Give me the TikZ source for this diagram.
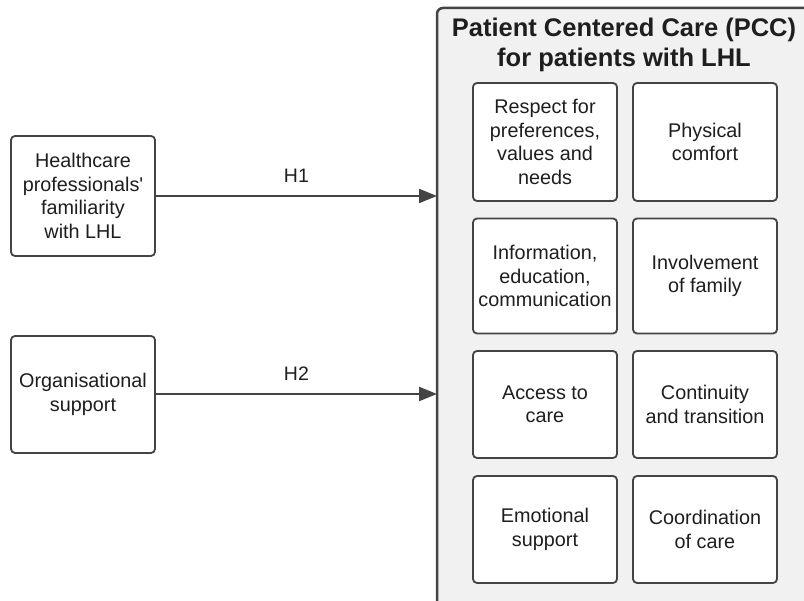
\documentclass[tikz,border=0pt]{standalone}
\usepackage{fontspec}
\setmainfont{Liberation Sans}
\usetikzlibrary{arrows.meta}
\definecolor{edge}{HTML}{444444}
\definecolor{panel}{HTML}{F1F1F1}
\definecolor{txt}{HTML}{1E1E1E}
\begin{document}
\begin{tikzpicture}[x=1pt,y=1pt,
  box/.style={draw=edge, line width=1.8pt, rounded corners=4pt, fill=white,
    align=center, inner sep=0pt, text=txt,
    font=\fontsize{19.8}{23.5}\selectfont},
  conn/.style={draw=edge, line width=2.2pt, -{Triangle[length=18pt,width=14pt]}},
  lbl/.style={text=txt, font=\fontsize{19.5}{23}\selectfont}]
\useasboundingbox (0,0) rectangle (804,601);
% big panel
\begin{scope}
\clip (0,0) rectangle (804,601);
\draw[draw=edge, line width=2.5pt, fill=panel, rounded corners=6pt] (437,593) rectangle (830,-30);
\end{scope}
\node[coordinate] (pccw) at (437,405) {};
\node[coordinate] (pccw2) at (437,207) {};
\node[text=txt, align=center, font=\fontsize{25.5}{30}\selectfont\bfseries] (title) at (624,556) {Patient Centered Care (PCC)\\for patients with LHL};
% left boxes
\node[box, minimum width=144pt, minimum height=120pt] (hc) at (83,405) {Healthcare\\professionals\textquotesingle\\familiarity\\with LHL};
\node[box, minimum width=144pt, minimum height=117pt] (org) at (83,206.5) {Organisational\\support};
% arrows
\draw[conn] (hc.east) -- (pccw) node[lbl, midway, above=9pt] (h1) {H1};
\draw[conn] (org.east |- pccw2) -- (pccw2) node[lbl, midway, above=9pt] (h2) {H2};
% inner boxes
\tikzset{inner/.style={box, minimum width=144pt}}
\node[inner, minimum height=118pt] (a1) at (545,459) {Respect for\\preferences,\\values and\\needs};
\node[inner, minimum height=118pt] (b1) at (705,459) {Physical\\comfort};
\node[inner, minimum height=115pt] (a2) at (545,325) {Information,\\education,\\communication};
\node[inner, minimum height=115pt] (b2) at (705,325) {Involvement\\of family};
\node[inner, minimum height=107pt] (a3) at (545,196.5) {Access to\\care};
\node[inner, minimum height=107pt] (b3) at (705,196.5) {Continuity\\and transition};
\node[inner, minimum height=107pt] (a4) at (545,71.5) {Emotional\\support};
\node[inner, minimum height=107pt] (b4) at (705,71.5) {Coordination\\of care};
\end{tikzpicture}
\end{document}
